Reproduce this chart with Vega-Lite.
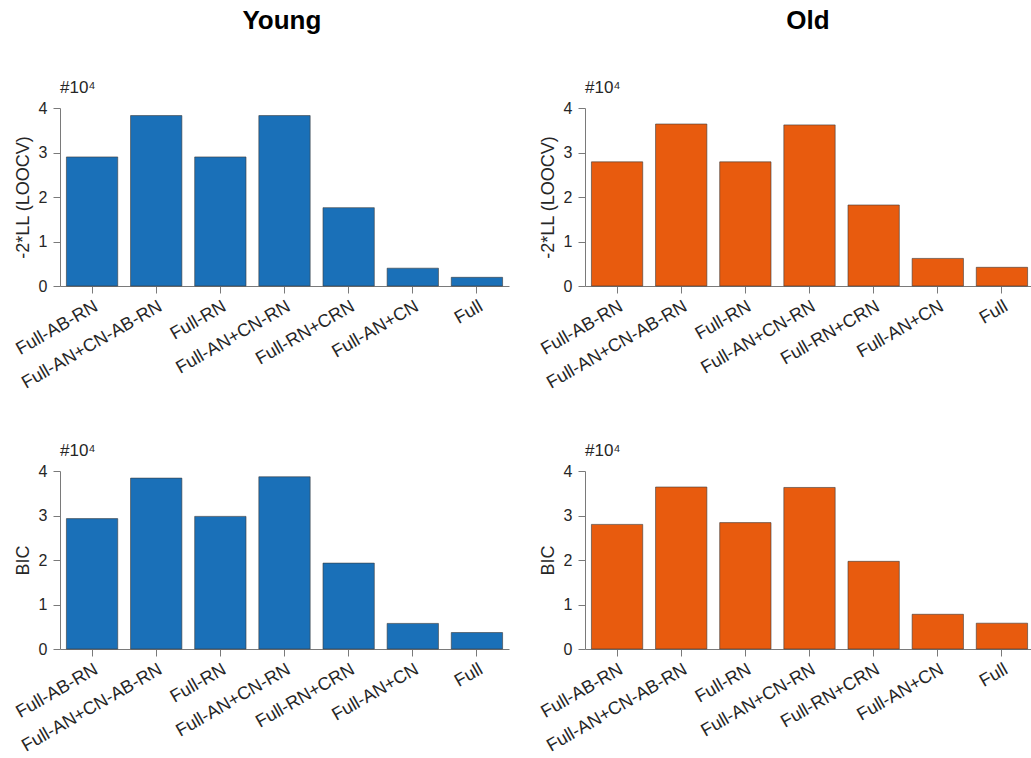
{
  "$schema": "https://vega.github.io/schema/vega-lite/v6.json",
  "padding": {"left": 12, "top": 8, "right": -3, "bottom": 0},
  "background": "white",
  "data": {"values": [
    {"group": "Young", "metric": "LOOCV", "model": "Full-AB-RN", "value": 29000},
    {"group": "Young", "metric": "LOOCV", "model": "Full-AN+CN-AB-RN", "value": 38300},
    {"group": "Young", "metric": "LOOCV", "model": "Full-RN", "value": 29000},
    {"group": "Young", "metric": "LOOCV", "model": "Full-AN+CN-RN", "value": 38300},
    {"group": "Young", "metric": "LOOCV", "model": "Full-RN+CRN", "value": 17600},
    {"group": "Young", "metric": "LOOCV", "model": "Full-AN+CN", "value": 4000},
    {"group": "Young", "metric": "LOOCV", "model": "Full", "value": 1950},
    {"group": "Old", "metric": "LOOCV", "model": "Full-AB-RN", "value": 27900},
    {"group": "Old", "metric": "LOOCV", "model": "Full-AN+CN-AB-RN", "value": 36400},
    {"group": "Old", "metric": "LOOCV", "model": "Full-RN", "value": 27900},
    {"group": "Old", "metric": "LOOCV", "model": "Full-AN+CN-RN", "value": 36200},
    {"group": "Old", "metric": "LOOCV", "model": "Full-RN+CRN", "value": 18200},
    {"group": "Old", "metric": "LOOCV", "model": "Full-AN+CN", "value": 6200},
    {"group": "Old", "metric": "LOOCV", "model": "Full", "value": 4200},
    {"group": "Young", "metric": "BIC", "model": "Full-AB-RN", "value": 29300},
    {"group": "Young", "metric": "BIC", "model": "Full-AN+CN-AB-RN", "value": 38400},
    {"group": "Young", "metric": "BIC", "model": "Full-RN", "value": 29800},
    {"group": "Young", "metric": "BIC", "model": "Full-AN+CN-RN", "value": 38700},
    {"group": "Young", "metric": "BIC", "model": "Full-RN+CRN", "value": 19300},
    {"group": "Young", "metric": "BIC", "model": "Full-AN+CN", "value": 5750},
    {"group": "Young", "metric": "BIC", "model": "Full", "value": 3700},
    {"group": "Old", "metric": "BIC", "model": "Full-AB-RN", "value": 28000},
    {"group": "Old", "metric": "BIC", "model": "Full-AN+CN-AB-RN", "value": 36400},
    {"group": "Old", "metric": "BIC", "model": "Full-RN", "value": 28400},
    {"group": "Old", "metric": "BIC", "model": "Full-AN+CN-RN", "value": 36300},
    {"group": "Old", "metric": "BIC", "model": "Full-RN+CRN", "value": 19700},
    {"group": "Old", "metric": "BIC", "model": "Full-AN+CN", "value": 7800},
    {"group": "Old", "metric": "BIC", "model": "Full", "value": 5800}
  ]},
  "spacing": 28,
  "hconcat": [
    {
      "title": {"text": "Young", "fontSize": 26, "fontWeight": "bold", "color": "#000000", "offset": 45, "anchor": "middle", "dx": 21},
      "spacing": 50,
      "vconcat": [
        {
          "width": 449, "height": 178,
          "title": {"text": "#10⁴", "anchor": "start", "frame": "group", "fontSize": 17, "fontWeight": "normal", "color": "#262626", "offset": 3},
          "transform": [{"filter": "datum.group === 'Young' && datum.metric === 'LOOCV'"}],
          "mark": {"type": "bar", "color": "#1a70b8", "stroke": "#3a3a3a", "strokeWidth": 0.6},
          "encoding": {
            "x": {"field": "model", "type": "nominal", "sort": ["Full-AB-RN", "Full-AN+CN-AB-RN", "Full-RN", "Full-AN+CN-RN", "Full-RN+CRN", "Full-AN+CN", "Full"], "scale": {"paddingInner": 0.2, "paddingOuter": 0.1}, "axis": {"title": null}},
            "y": {"field": "value", "type": "quantitative", "scale": {"domain": [0, 40000]}, "axis": {"title": "-2*LL (LOOCV)", "values": [0, 10000, 20000, 30000, 40000], "labelExpr": "datum.value / 10000"}}
          }
        },
        {
          "width": 449, "height": 178,
          "title": {"text": "#10⁴", "anchor": "start", "frame": "group", "fontSize": 17, "fontWeight": "normal", "color": "#262626", "offset": 3},
          "transform": [{"filter": "datum.group === 'Young' && datum.metric === 'BIC'"}],
          "mark": {"type": "bar", "color": "#1a70b8", "stroke": "#3a3a3a", "strokeWidth": 0.6},
          "encoding": {
            "x": {"field": "model", "type": "nominal", "sort": ["Full-AB-RN", "Full-AN+CN-AB-RN", "Full-RN", "Full-AN+CN-RN", "Full-RN+CRN", "Full-AN+CN", "Full"], "scale": {"paddingInner": 0.2, "paddingOuter": 0.1}, "axis": {"title": null}},
            "y": {"field": "value", "type": "quantitative", "scale": {"domain": [0, 40000]}, "axis": {"title": "BIC", "values": [0, 10000, 20000, 30000, 40000], "labelExpr": "datum.value / 10000"}}
          }
        }
      ]
    },
    {
      "title": {"text": "Old", "fontSize": 26, "fontWeight": "bold", "color": "#000000", "offset": 45, "anchor": "middle", "dx": 22},
      "spacing": 50,
      "vconcat": [
        {
          "width": 449, "height": 178,
          "title": {"text": "#10⁴", "anchor": "start", "frame": "group", "fontSize": 17, "fontWeight": "normal", "color": "#262626", "offset": 3},
          "transform": [{"filter": "datum.group === 'Old' && datum.metric === 'LOOCV'"}],
          "mark": {"type": "bar", "color": "#e85b0e", "stroke": "#3a3a3a", "strokeWidth": 0.6},
          "encoding": {
            "x": {"field": "model", "type": "nominal", "sort": ["Full-AB-RN", "Full-AN+CN-AB-RN", "Full-RN", "Full-AN+CN-RN", "Full-RN+CRN", "Full-AN+CN", "Full"], "scale": {"paddingInner": 0.2, "paddingOuter": 0.1}, "axis": {"title": null}},
            "y": {"field": "value", "type": "quantitative", "scale": {"domain": [0, 40000]}, "axis": {"title": "-2*LL (LOOCV)", "values": [0, 10000, 20000, 30000, 40000], "labelExpr": "datum.value / 10000"}}
          }
        },
        {
          "width": 449, "height": 178,
          "title": {"text": "#10⁴", "anchor": "start", "frame": "group", "fontSize": 17, "fontWeight": "normal", "color": "#262626", "offset": 3},
          "transform": [{"filter": "datum.group === 'Old' && datum.metric === 'BIC'"}],
          "mark": {"type": "bar", "color": "#e85b0e", "stroke": "#3a3a3a", "strokeWidth": 0.6},
          "encoding": {
            "x": {"field": "model", "type": "nominal", "sort": ["Full-AB-RN", "Full-AN+CN-AB-RN", "Full-RN", "Full-AN+CN-RN", "Full-RN+CRN", "Full-AN+CN", "Full"], "scale": {"paddingInner": 0.2, "paddingOuter": 0.1}, "axis": {"title": null}},
            "y": {"field": "value", "type": "quantitative", "scale": {"domain": [0, 40000]}, "axis": {"title": "BIC", "values": [0, 10000, 20000, 30000, 40000], "labelExpr": "datum.value / 10000"}}
          }
        }
      ]
    }
  ],
  "config": {
    "font": "Liberation Sans",
    "view": {"stroke": null},
    "axis": {
      "grid": false,
      "domainColor": "#7a7a7a",
      "domainWidth": 1,
      "tickColor": "#7a7a7a",
      "tickSize": 7,
      "labelColor": "#262626",
      "labelFontSize": 16,
      "labelPadding": 5,
      "titleColor": "#262626",
      "titleFontSize": 18,
      "titleFontWeight": "normal",
      "titlePadding": 6
    },
    "axisX": {"labelAngle": -30, "labelAlign": "right", "labelBaseline": "top", "labelPadding": 4, "labelFontSize": 18},
    "axisY": {"labelPadding": 6}
  }
}
